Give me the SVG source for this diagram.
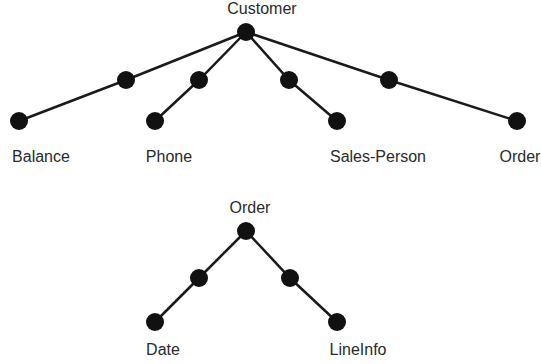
<svg xmlns="http://www.w3.org/2000/svg" width="541" height="364" viewBox="0 0 541 364">
<style>
.e{stroke:#1a1a1a;stroke-width:2.5;fill:none;stroke-linecap:round}
.n{fill:#111}
text{font-family:"Liberation Sans",Arial,sans-serif;font-size:16px;fill:#2a2a2a;text-anchor:middle}
</style>
<rect width="541" height="364" fill="#fff"/>
<g id="connectors">
<path class="e" d="M246,32 L126,80 L19,121"/>
<path class="e" d="M246,32 L199,80 L155,121"/>
<path class="e" d="M246,32 L289,80 L337,121"/>
<path class="e" d="M246,32 L389,80 L517,121"/>
<path class="e" d="M246,231 L199,278 L155,322"/>
<path class="e" d="M246,231 L290,278 L337,322"/>
</g>
<g id="customer"><circle class="n" cx="246" cy="32" r="9"/><text x="262" y="14">Customer</text></g>
<g id="c1"><circle class="n" cx="126" cy="80" r="9"/></g>
<g id="c2"><circle class="n" cx="199" cy="80" r="9"/></g>
<g id="c3"><circle class="n" cx="289" cy="80" r="9"/></g>
<g id="c4"><circle class="n" cx="389" cy="80" r="9"/></g>
<g id="balance"><circle class="n" cx="19" cy="121" r="9"/><text x="41" y="162">Balance</text></g>
<g id="phone"><circle class="n" cx="155" cy="121" r="9"/><text x="169" y="162">Phone</text></g>
<g id="salesperson"><circle class="n" cx="337" cy="121" r="9"/><text x="378" y="162">Sales-Person</text></g>
<g id="order1"><circle class="n" cx="517" cy="121" r="9"/><text x="520" y="162">Order</text></g>
<g id="order2"><circle class="n" cx="246" cy="231" r="9"/><text x="250" y="213">Order</text></g>
<g id="o1"><circle class="n" cx="199" cy="278" r="9"/></g>
<g id="o2"><circle class="n" cx="290" cy="278" r="9"/></g>
<g id="date"><circle class="n" cx="155" cy="322" r="9"/><text x="163" y="355">Date</text></g>
<g id="lineinfo"><circle class="n" cx="337" cy="322" r="9"/><text x="358" y="355">LineInfo</text></g>
</svg>
